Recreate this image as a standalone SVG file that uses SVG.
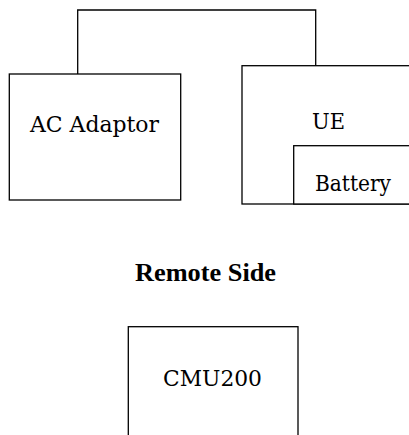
<svg xmlns="http://www.w3.org/2000/svg" width="409" height="435" viewBox="0 0 409 435">
<style>
.box{fill:#fff;stroke:#000;stroke-width:1.3}
.ln{fill:none;stroke:#000;stroke-width:1.3}
.t{font-family:'DejaVu Serif','Liberation Serif',serif;font-size:23px;fill:#000}
.b{font-family:'Liberation Serif','DejaVu Serif',serif;font-size:26px;font-weight:bold;fill:#000}
</style>
<rect width="409" height="435" fill="#fff"/>
<g id="connectors">
<polyline class="ln" points="77.7,74 77.7,10 315.7,10 315.7,65.7"/>
</g>
<g id="ac-adaptor">
<rect class="box" x="9.3" y="74" width="171.4" height="126"/>
<text class="t" x="30" y="131.5" textLength="129" lengthAdjust="spacingAndGlyphs">AC Adaptor</text>
</g>
<g id="ue">
<rect class="box" x="242" y="65.7" width="180" height="138.3"/>
<text class="t" x="312" y="129" textLength="33" lengthAdjust="spacingAndGlyphs">UE</text>
</g>
<g id="battery">
<rect class="box" x="293.7" y="145.7" width="130" height="58.3"/>
<text class="t" x="315" y="190.7" textLength="76" lengthAdjust="spacingAndGlyphs">Battery</text>
</g>
<g id="remote-side">
<text class="b" x="135" y="280.7" textLength="141" lengthAdjust="spacingAndGlyphs">Remote Side</text>
</g>
<g id="cmu200">
<rect class="box" x="128.3" y="326.7" width="169.7" height="120"/>
<text class="t" x="163" y="385.7" textLength="99" lengthAdjust="spacingAndGlyphs">CMU200</text>
</g>
</svg>
